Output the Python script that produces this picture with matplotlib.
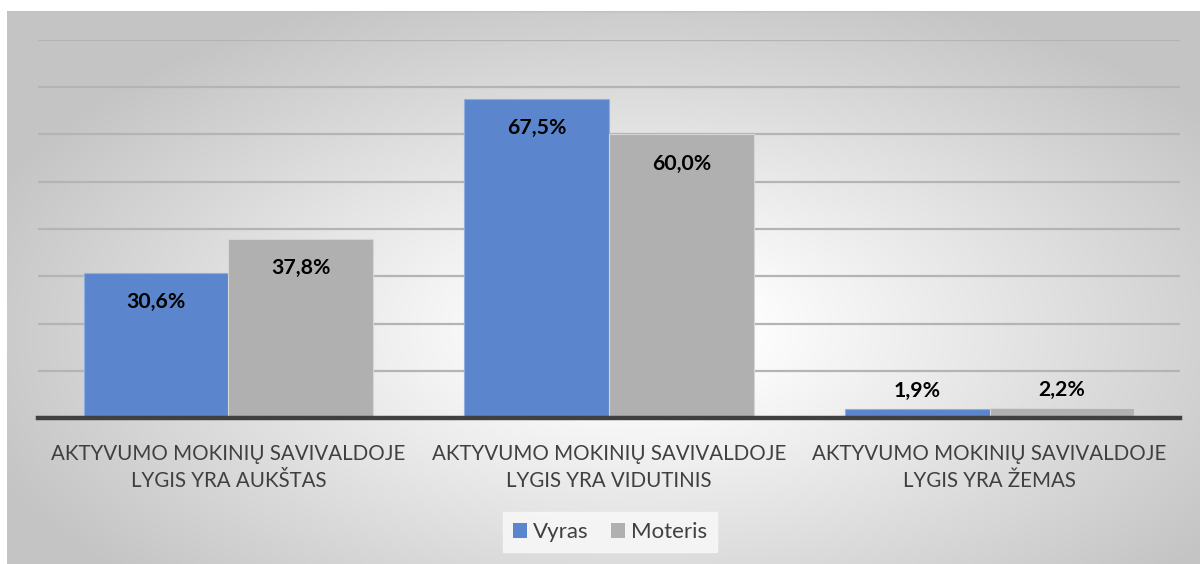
import numpy as np
import matplotlib
matplotlib.use("Agg")
import matplotlib.pyplot as plt
from matplotlib.patches import Rectangle

categories = ["AKTYVUMO MOKINIŲ SAVIVALDOJE\nLYGIS YRA AUKŠTAS",
              "AKTYVUMO MOKINIŲ SAVIVALDOJE\nLYGIS YRA VIDUTINIS",
              "AKTYVUMO MOKINIŲ SAVIVALDOJE\nLYGIS YRA ŽEMAS"]
series_names = ["Vyras", "Moteris"]
vyras = [30.6, 67.5, 1.9]
moteris = [37.8, 60.0, 2.2]
colors = ["#5b86cd", "#b0b0b0"]

W, H = 1200, 564
fig = plt.figure(figsize=(W / 100, H / 100), dpi=100)
fig.patch.set_facecolor("white")

# background gradient panel
bg = fig.add_axes([7 / W, 0, 1 - 7 / W, 1 - 11 / H])
bg.set_axis_off()
xs = np.linspace(7, W, 600)
ys = np.linspace(11, H, 300)
X, Y = np.meshgrid(xs, ys)
cx, cy, a, b = 640, 330, 640, 330
r = np.sqrt(((X - cx) / a) ** 2 + ((Y - cy) / b) ** 2)
t = np.clip((r - 0.15) / 0.95, 0, 1)
val = 1.0 - t * (1.0 - 0.77)
img = np.dstack([val, val, val])
bg.imshow(img, aspect="auto", extent=[0, 1, 0, 1], origin="upper", interpolation="bilinear")
bg.set_xlim(0, 1); bg.set_ylim(0, 1)
bg.add_patch(Rectangle((0, 0.9995), 1, 0.002, color="#c0c0c0", transform=bg.transAxes))

# main axes: x 38..1180 px, y 40..418 px
left, right, top, bottom = 38, 1180, 40, 418
ax = fig.add_axes([left / W, 1 - bottom / H, (right - left) / W, (bottom - top) / H])
ax.patch.set_alpha(0)

x = np.arange(len(categories))
bw = 0.38
bars1 = ax.bar(x - bw / 2, vyras, bw, color=colors[0], edgecolor="#8faee0", linewidth=0.8, label=series_names[0], zorder=3)
bars2 = ax.bar(x + bw / 2, moteris, bw, color=colors[1], edgecolor="#d6d6d6", linewidth=0.8, label=series_names[1], zorder=3)

ax.set_xlim(-0.5, 2.5)
ax.set_ylim(0, 80)
ax.set_yticks(np.arange(10, 81, 10))
ax.yaxis.grid(True, color="#b4b4b4", linewidth=1.6, zorder=1)
ax.tick_params(axis="y", length=0, labelleft=False)
ax.tick_params(axis="x", length=0, pad=19)
for s in ["top", "right", "left"]:
    ax.spines[s].set_visible(False)
ax.spines["bottom"].set_color("#404040")
ax.spines["bottom"].set_linewidth(3.2)
ax.spines["bottom"].set_zorder(4)

ax.set_xticks(x)
ax.set_xticklabels(categories, fontsize=14.8, color="#404040", family=["Lato", "DejaVu Sans"], linespacing=1.4)

def fmt(v):
    return f"{v:.1f}".replace(".", ",") + "%"

for bars, vals in [(bars1, vyras), (bars2, moteris)]:
    for rect, v in zip(bars, vals):
        cxp = rect.get_x() + rect.get_width() / 2
        off = -29 if v > 10 else 18
        ax.annotate(fmt(v), (cxp, v), xytext=(0, off), textcoords="offset pixels",
                    ha="center", va="center", fontsize=15.3, fontweight="bold", color="black",
                    family=["Lato", "DejaVu Sans"], zorder=5)

leg = fig.legend(handles=[bars1, bars2], labels=series_names, loc="center",
                 bbox_to_anchor=(610 / W, 1 - 532 / H), ncol=2, frameon=True,
                 prop={"family": ["Lato", "DejaVu Sans"], "size": 16},
                 handlelength=0.65, handleheight=0.65, handletextpad=0.25, columnspacing=1.0,
                 fancybox=False, borderpad=0.45)
leg.get_frame().set_facecolor("#f7f7f7")
leg.get_frame().set_edgecolor("#f7f7f7")
leg.get_frame().set_alpha(0.9)
for t_ in leg.get_texts():
    t_.set_color("#404040")
for h in leg.legend_handles:
    h.set_edgecolor("none")

fig.savefig("out.png", dpi=100, facecolor="white")
